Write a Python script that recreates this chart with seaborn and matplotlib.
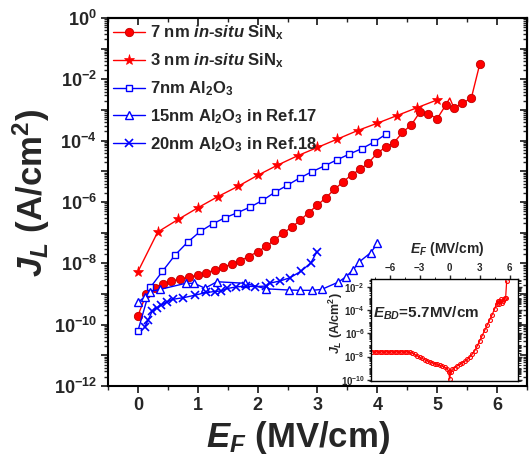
import numpy as np
import pandas as pd
import matplotlib
matplotlib.use('Agg')
import matplotlib.pyplot as plt
import seaborn as sns
from matplotlib.ticker import LogLocator, FuncFormatter, MultipleLocator, FixedLocator, NullFormatter

# ---------------- data (log10 of J in A/cm^2) ----------------
sin7_E = [0.0, 0.14, 0.28, 0.42, 0.56, 0.71, 0.85, 1.0, 1.14, 1.28, 1.42, 1.57, 1.71, 1.85,
          2.0, 2.14, 2.28, 2.42, 2.57, 2.71, 2.85, 3.0, 3.14, 3.28, 3.42, 3.57, 3.71, 3.85,
          4.0, 4.14, 4.28, 4.42, 4.57, 4.71, 4.85, 5.0, 5.14, 5.21, 5.28, 5.42, 5.57, 5.71]
sin7_logJ = [-9.71, -9.0, -8.79, -8.66, -8.58, -8.51, -8.45, -8.38, -8.31, -8.22, -8.13, -8.02,
             -7.91, -7.78, -7.62, -7.45, -7.24, -7.02, -6.82, -6.6, -6.35, -6.1, -5.86, -5.59,
             -5.36, -5.11, -4.94, -4.73, -4.40, -4.21, -4.06, -3.73, -3.48, -3.07, -3.13, -3.28,
             -2.85, -2.61, -2.94, -2.78, -2.61, -1.51]

sin3_E = [0.0, 0.33, 0.67, 1.0, 1.33, 1.67, 2.0, 2.33, 2.67, 3.0, 3.33, 3.67, 4.0, 4.33, 4.67, 5.0]
sin3_logJ = [-8.27, -6.98, -6.57, -6.19, -5.83, -5.49, -5.13, -4.80, -4.49, -4.22, -3.95,
             -3.67, -3.43, -3.18, -2.92, -2.67]

al7_E = [0.0, 0.21, 0.41, 0.62, 0.83, 1.04, 1.25, 1.46, 1.66, 1.87, 2.08, 2.29, 2.49, 2.7,
         2.91, 3.12, 3.33, 3.53, 3.74, 3.95, 4.15]
al7_logJ = [-10.2, -8.78, -8.26, -7.73, -7.31, -6.96, -6.71, -6.51, -6.35, -6.17, -5.95, -5.68,
            -5.46, -5.22, -5.01, -4.82, -4.62, -4.44, -4.26, -4.04, -3.78]

al15_E = [0.0, 0.11, 0.2, 0.37, 0.8, 0.94, 1.12, 1.32, 1.79, 2.14, 2.52, 2.71, 2.91, 3.07,
          3.35, 3.48, 3.59, 3.7, 3.89, 4.0]
al15_logJ = [-9.27, -9.1, -8.92, -8.85, -8.65, -8.65, -8.81, -8.6, -8.65, -8.83, -8.87, -8.88,
             -8.88, -8.85, -8.61, -8.43, -8.22, -7.95, -7.65, -7.35]

al20_E = [0.11, 0.17, 0.24, 0.32, 0.39, 0.48, 0.59, 0.76, 0.95, 1.14, 1.28, 1.39, 1.49, 1.64,
          1.81, 1.95, 2.14, 2.2, 2.38, 2.54, 2.73, 2.89, 2.99]
al20_logJ = [-10.09, -9.85, -9.55, -9.44, -9.36, -9.26, -9.17, -9.12, -9.04, -8.95, -8.92, -8.9,
             -8.82, -8.77, -8.74, -8.76, -8.74, -8.65, -8.57, -8.47, -8.25, -7.98, -7.62]

labels = ["7 nm $in$-$situ$ SiN$_\\mathrm{x}$",
          "3 nm $in$-$situ$ SiN$_\\mathrm{x}$",
          "7nm Al$_\\mathrm{2}$O$_\\mathrm{3}$",
          "15nm Al$_\\mathrm{2}$O$_\\mathrm{3}$ in Ref.17",
          "20nm Al$_\\mathrm{2}$O$_\\mathrm{3}$ in Ref.18"]

# inset: full sweep of 7 nm in-situ SiNx
ins_E = [-7.8, -7.5, -7.25, -7.0, -6.75, -6.5, -6.25, -6.0, -5.75, -5.5, -5.25, -5.0, -4.75,
         -4.5, -4.25, -4.0, -3.75, -3.5, -3.25, -3.0, -2.75, -2.5, -2.25, -2.0, -1.75, -1.5,
         -1.25, -1.0, -0.75, -0.5, -0.25, -0.1, 0.0, 0.1, 0.25, 0.5, 0.75, 1.0, 1.25, 1.5, 1.75,
         2.0, 2.25, 2.5, 2.75, 3.0, 3.25, 3.5, 3.75, 4.0, 4.25, 4.5, 4.7, 4.8, 4.9, 5.0, 5.1,
         5.2, 5.3, 5.4, 5.5, 5.6, 5.7]
ins_logJ = [-7.6, -7.6, -7.6, -7.6, -7.6, -7.6, -7.6, -7.6, -7.6, -7.6, -7.6, -7.6, -7.6,
            -7.6, -7.6, -7.62, -7.7, -7.82, -7.95, -8.07, -8.17, -8.27, -8.36, -8.45, -8.53,
            -8.6, -8.68, -8.75, -8.82, -8.92, -9.05, -9.3, -9.95, -9.3, -9.1, -8.95, -8.8,
            -8.68, -8.55, -8.42, -8.25, -8.05, -7.8, -7.5, -7.1, -6.65, -6.2, -5.75, -5.3,
            -4.85, -4.4, -3.9, -3.45, -3.2, -3.5, -3.25, -3.1, -3.4, -3.2, -3.1, -3.0, -2.95,
            -1.55]

# ---------------- style ----------------
sns.set_theme(style='ticks')
plt.rcParams['font.family'] = ['Liberation Sans', 'DejaVu Sans']
plt.rcParams['font.weight'] = 'bold'
plt.rcParams['axes.labelweight'] = 'bold'
plt.rcParams['mathtext.fontset'] = 'custom'
plt.rcParams['mathtext.rm'] = 'Liberation Sans:bold'
plt.rcParams['mathtext.bf'] = 'Liberation Sans:bold'
plt.rcParams['mathtext.it'] = 'Liberation Sans:bold:italic'
plt.rcParams['mathtext.sf'] = 'Liberation Sans:bold'

RED = '#ff0000'
BLUE = '#0000ff'


def df_of(E, logJ):
    return pd.DataFrame({'E': E, 'J': 10.0 ** np.asarray(logJ)})


fig = plt.figure(figsize=(5.32, 4.59), dpi=100)
ax = fig.add_axes([0.203, 0.159, 0.7876, 0.8018])

peak_idx = sin7_E.index(5.21)
mk = [i for i in range(len(sin7_E)) if i != peak_idx]
sns.lineplot(data=df_of(sin7_E, sin7_logJ), x='E', y='J', ax=ax, sort=False, estimator=None,
             color=RED, lw=1.0, marker='o', markersize=6.0, markerfacecolor=RED,
             markeredgecolor='#c00000', markeredgewidth=0.6, markevery=mk, label=labels[0])
sns.lineplot(data=df_of(sin3_E, sin3_logJ), x='E', y='J', ax=ax, sort=False, estimator=None,
             color=RED, lw=1.0, marker='*', markersize=8, markerfacecolor=RED,
             markeredgecolor=RED, markeredgewidth=0.5, label=labels[1])
sns.lineplot(data=df_of(al7_E, al7_logJ), x='E', y='J', ax=ax, sort=False, estimator=None,
             color=BLUE, lw=1.0, marker='s', markersize=4.2, markerfacecolor='white',
             markeredgecolor=BLUE, markeredgewidth=1.0, label=labels[2])
sns.lineplot(data=df_of(al15_E, al15_logJ), x='E', y='J', ax=ax, sort=False, estimator=None,
             color=BLUE, lw=1.0, marker='^', markersize=5.5, markerfacecolor='white',
             markeredgecolor=BLUE, markeredgewidth=1.0, label=labels[3])
sns.lineplot(data=df_of(al20_E, al20_logJ), x='E', y='J', ax=ax, sort=False, estimator=None,
             color=BLUE, lw=1.0, marker='x', markersize=5.5, markeredgecolor=BLUE,
             markeredgewidth=1.2, label=labels[4])

ax.set_yscale('log')
ax.set_xlim(-0.5, 6.5)
ax.set_ylim(1e-12, 1)

ax.xaxis.set_major_locator(MultipleLocator(1))
ax.xaxis.set_minor_locator(MultipleLocator(0.5))
ax.yaxis.set_major_locator(LogLocator(base=10, numticks=30))
ax.yaxis.set_minor_locator(LogLocator(base=10, subs=np.arange(2, 10), numticks=30))


def ylab(v, pos):
    e = int(round(np.log10(v)))
    return f'$10^{{{e}}}$' if e % 2 == 0 else ''


ax.yaxis.set_major_formatter(FuncFormatter(ylab))
ax.yaxis.set_minor_formatter(NullFormatter())
ax.tick_params(axis='both', which='major', direction='out', length=5, width=1.3,
               labelsize=13, pad=3, top=False, right=False)
ax.tick_params(axis='both', which='minor', direction='out', length=3, width=1.0,
               top=False, right=False)
for lab in ax.get_xticklabels() + ax.get_yticklabels():
    lab.set_fontweight('bold')
for s in ax.spines.values():
    s.set_linewidth(1.5)
    s.set_color('black')

# top and right ticks pointing inward
sx = ax.secondary_xaxis('top')
sx.xaxis.set_major_locator(MultipleLocator(1))
sx.xaxis.set_minor_locator(MultipleLocator(0.5))
sx.tick_params(which='major', direction='in', length=5, width=1.3, labeltop=False)
sx.tick_params(which='minor', direction='in', length=3, width=1.0)
sx.spines['top'].set_linewidth(1.5)
sy = ax.secondary_yaxis('right')
sy.yaxis.set_major_locator(LogLocator(base=10, numticks=30))
sy.yaxis.set_minor_locator(LogLocator(base=10, subs=np.arange(2, 10), numticks=30))
sy.tick_params(which='major', direction='in', length=5, width=1.3, labelright=False)
sy.tick_params(which='minor', direction='in', length=3, width=1.0)
sy.spines['right'].set_linewidth(1.5)

ax.set_xlabel('$E_F$ (MV/cm)', fontsize=25, fontweight='bold', ha='center', va='center')
ax.xaxis.set_label_coords(0.453, -0.139)
ax.set_ylabel('$J_L$ (A/cm$^2$)', fontsize=25, fontweight='bold', ha='center', va='center')
ax.yaxis.set_label_coords(-0.183, 0.524)

leg = ax.legend(loc='upper left', bbox_to_anchor=(0.0, 0.998), frameon=False,
                prop={'size': 12, 'weight': 'bold'}, handlelength=1.9, handletextpad=0.3,
                labelspacing=0.55, borderaxespad=0.0, borderpad=0.3)

# ---------------- inset ----------------
ax2 = fig.add_axes([0.697, 0.170, 0.276, 0.222])
ax2.set_facecolor('white')
sns.lineplot(data=df_of(ins_E, ins_logJ), x='E', y='J', ax=ax2, sort=False, estimator=None,
             color=RED, lw=0.9, marker='o', markersize=2.8, markerfacecolor='none',
             markeredgecolor=RED, markeredgewidth=0.8)
ax2.set_yscale('log')
ax2.set_xlim(-7.9, 6.8)
ax2.set_ylim(10 ** -10.1, 10 ** -1.35)
ax2.xaxis.tick_top()
ax2.xaxis.set_label_position('top')
ax2.set_xticks([-6, -3, 0, 3, 6])
ax2.xaxis.set_minor_locator(MultipleLocator(1.5))
ax2.yaxis.set_major_locator(FixedLocator([1e-10, 1e-8, 1e-6, 1e-4, 1e-2]))
ax2.yaxis.set_minor_locator(LogLocator(base=10, subs=np.arange(1, 10), numticks=30))
ax2.yaxis.set_minor_formatter(NullFormatter())
ax2.yaxis.set_major_formatter(FuncFormatter(lambda v, p: f'$10^{{{int(round(np.log10(v)))}}}$'))
ax2.tick_params(axis='both', which='major', direction='out', length=3, width=1.0,
                labelsize=7, pad=1.2, right=True, bottom=False)
ax2.tick_params(axis='both', which='minor', direction='out', length=1.8, width=0.7,
                right=True, bottom=False)
for lab in ax2.get_xticklabels() + ax2.get_yticklabels():
    lab.set_fontweight('bold')
for s in ax2.spines.values():
    s.set_linewidth(1.0)
    s.set_color('black')
ax2.set_xlabel('$E_F$ (MV/cm)', fontsize=10, fontweight='bold', ha='center', va='center')
ax2.xaxis.set_label_coords(0.52, 1.30)
ax2.set_ylabel('$J_L$ (A/cm$^2$)', fontsize=9, fontweight='bold', ha='center', va='center')
ax2.yaxis.set_label_coords(-0.24, 0.57)
ax2.text(0.375, 0.66, '$E_{BD}$=5.7MV/cm', transform=ax2.transAxes, fontsize=11,
         fontweight='bold', ha='center', va='center')

fig.savefig('out.png', dpi=100, facecolor='white')
